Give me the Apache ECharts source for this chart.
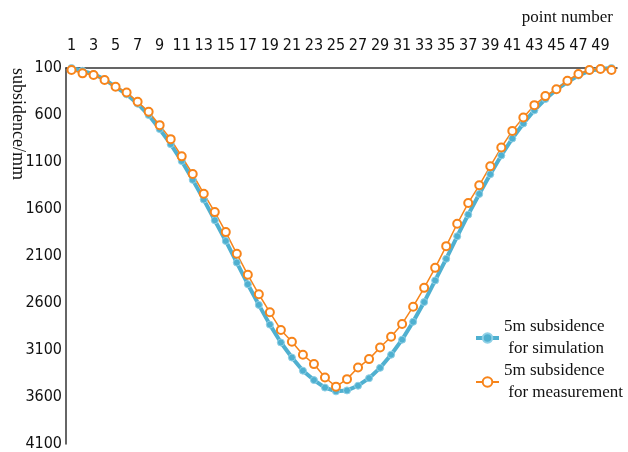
<!DOCTYPE html>
<html>
<head>
<meta charset="utf-8">
<script src="https://cdn.jsdelivr.net/npm/echarts@6/dist/echarts.min.js"></script>
<style>
  html, body { margin: 0; padding: 0; background: #fff; }
  #chart { width: 628px; height: 452px; }
</style>
</head>
<body>
<div id="chart"></div>
<script>
// point numbers 1..50
const pointNumbers = ['1', '2', '3', '4', '5', '6', '7', '8', '9', '10',
    '11', '12', '13', '14', '15', '16', '17', '18', '19', '20',
    '21', '22', '23', '24', '25', '26', '27', '28', '29', '30',
    '31', '32', '33', '34', '35', '36', '37', '38', '39', '40',
    '41', '42', '43', '44', '45', '46', '47', '48', '49', '50'];

// subsidence (mm)
const simulation = [100, 130, 165, 220, 300, 380, 480, 600, 750, 910,
    1090, 1290, 1500, 1720, 1940, 2170, 2400, 2620, 2830, 3020,
    3180, 3320, 3420, 3500, 3540, 3530, 3480, 3400, 3290, 3150,
    2990, 2800, 2590, 2360, 2130, 1890, 1660, 1440, 1230, 1030,
    850, 690, 550, 430, 330, 250, 180, 130, 110, 100];

const measurement = [121, 157, 175, 228, 299, 360, 459, 566, 708, 857,
    1040, 1228, 1437, 1633, 1846, 2077, 2300, 2507, 2699, 2887,
    3012, 3150, 3250, 3393, 3490, 3410, 3287, 3197, 3073, 2959,
    2823, 2639, 2439, 2226, 1995, 1757, 1537, 1348, 1145, 946,
    769, 626, 495, 399, 327, 235, 164, 121, 111, 121];

const yTicks = [100, 600, 1100, 1600, 2100, 2600, 3100, 3600, 4100];

const seriesNames = ['5m subsidence\n for simulation', '5m subsidence\n for measurement'];

const labelFont = '"Liberation Sans Narrow", "DejaVu Sans Condensed", "Liberation Sans", sans-serif';
const serifFont = '"Liberation Serif", "DejaVu Serif", serif';
const BLUE = '#4fb0d0';
const ORANGE = '#f7841a';

const myChart = echarts.init(document.getElementById('chart'));

const option = {
    backgroundColor: '#fff',
    animation: false,
    grid: {
        left: 66,
        right: 11,
        top: 68,
        bottom: 8
    },
    xAxis: {
        type: 'category',
        position: 'top',
        data: pointNumbers,
        boundaryGap: true,
        axisLine: {
            show: true,
            lineStyle: { color: '#333', width: 1.5 }
        },
        axisTick: { show: false },
        axisLabel: {
            interval: 1,
            margin: 14,
            color: '#111',
            fontSize: 16,
            fontFamily: labelFont
        },
        splitLine: { show: false }
    },
    yAxis: {
        type: 'value',
        inverse: true,
        min: 100,
        max: 4100,
        axisLine: {
            show: true,
            lineStyle: { color: '#333', width: 1.5 }
        },
        axisTick: { show: false },
        axisLabel: {
            customValues: yTicks,
            formatter: (v) => String(v),
            margin: 4,
            color: '#111',
            fontSize: 16,
            fontFamily: labelFont
        },
        splitLine: { show: false }
    },
    legend: {
        orient: 'vertical',
        left: 469,
        top: 311,
        itemWidth: 23,
        itemHeight: 12,
        itemGap: 0,
        textStyle: {
            fontFamily: serifFont,
            fontSize: 17,
            lineHeight: 22,
            color: '#111'
        },
        data: [{
            name: seriesNames[0],
            lineStyle: { width: 4 }
        }, {
            name: seriesNames[1]
        }]
    },
    graphic: [{
        type: 'text',
        x: 18,
        y: 124,
        rotation: -Math.PI / 2,
        style: {
            text: 'subsidence/mm',
            fill: '#111',
            font: '18px ' + serifFont,
            align: 'center',
            verticalAlign: 'middle'
        }
    }, {
        type: 'text',
        right: 15,
        top: 9,
        style: {
            text: 'point number',
            fill: '#111',
            font: '17px ' + serifFont
        }
    }],
    series: [{
        name: seriesNames[0],
        type: 'line',
        data: simulation,
        showAllSymbol: true,
        symbol: 'circle',
        symbolSize: 7,
        lineStyle: { color: BLUE, width: 4 },
        itemStyle: { color: BLUE, borderColor: '#8fd0e6', borderWidth: 1 }
    }, {
        name: seriesNames[1],
        type: 'line',
        data: measurement,
        showAllSymbol: true,
        symbol: 'circle',
        symbolSize: 8,
        lineStyle: { color: ORANGE, width: 1.5 },
        itemStyle: { color: '#fff', borderColor: ORANGE, borderWidth: 2 }
    }]
};

myChart.setOption(option);
</script>
</body>
</html>
